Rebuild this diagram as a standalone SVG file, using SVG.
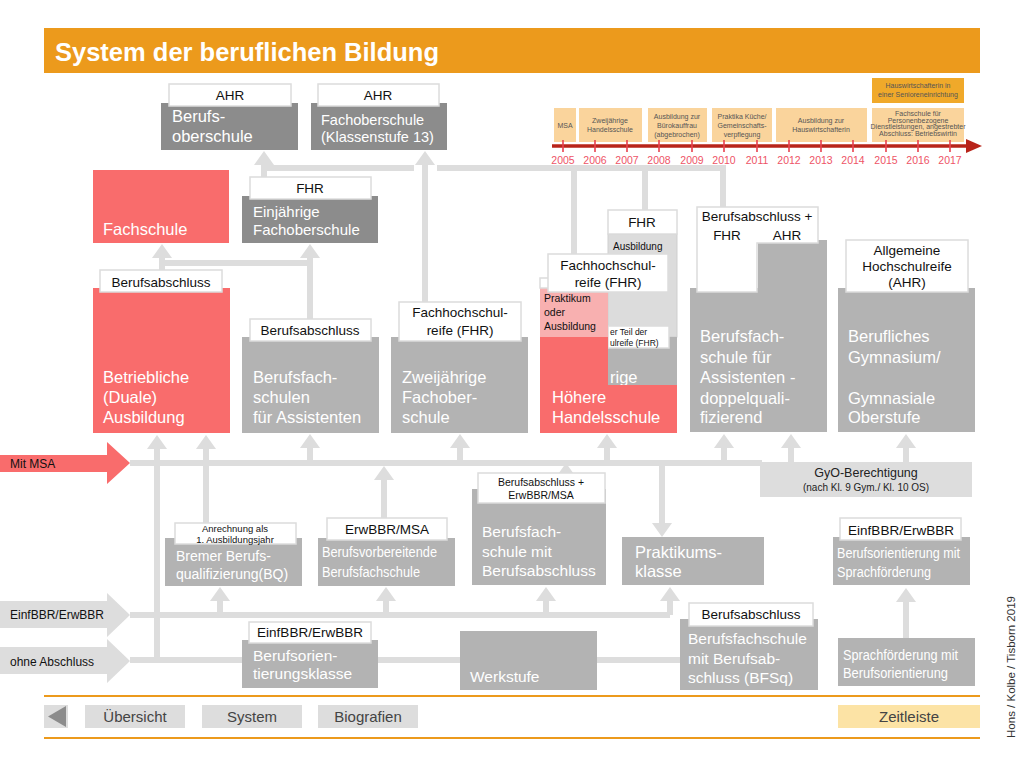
<svg xmlns="http://www.w3.org/2000/svg" width="1024" height="768" viewBox="0 0 1024 768">
<defs>
<style>
text{font-family:"Liberation Sans",Arial,sans-serif}
.dk{fill:#8C8C8C}
.md{fill:#B3B3B3}
.rd{fill:#F96C6C}
.pk{fill:#F8B0B0}
.lg{fill:#DDDDDD}
.lb{fill:#fff;stroke:#DCDCDC;stroke-width:1.5}
.w{fill:#fff}
.k{fill:#111}
.c{stroke:#DDDDDD;stroke-width:6;fill:none}
.ca{stroke:#DDDDDD;stroke-width:6;fill:none;marker-end:url(#ah)}
.t16{font-size:16.5px}
.t15{font-size:15px}
.t14{font-size:14px}
.l{font-size:13.5px;text-anchor:middle}
.s{font-size:10px}
.tl{font-size:7px;fill:#555;text-anchor:middle}
.tb{fill:#FAD49C}
.yr{font-size:10.5px;fill:#EE5466;text-anchor:middle}
.tk{stroke:#E8424E;stroke-width:1.6}
.nav{font-size:15px;fill:#444;text-anchor:middle}
</style>
<marker id="ah" viewBox="0 0 14 20" refX="0" refY="10" markerWidth="14" markerHeight="20" markerUnits="userSpaceOnUse" orient="auto"><path d="M0,0 L14,10 L0,20 Z" fill="#DDDDDD"/></marker>
</defs>
<rect x="0" y="0" width="1024" height="768" fill="#fff"/>

<g id="title">
<rect x="44" y="28" width="936" height="45" fill="#EC9A1C"/>
<text x="55" y="61" font-size="25.5" font-weight="bold" fill="#fff">System der beruflichen Bildung</text>
</g>

<g id="timeline">
<rect x="872" y="78" width="92" height="25" fill="#F0A92A"/>
<text class="tl" x="918" y="88">Hauswirtschafterin in</text>
<text class="tl" x="918" y="97">einer Senioreneinrichtung</text>
<rect class="tb" x="554" y="108" width="22" height="34"/>
<text class="tl" x="565" y="128">MSA</text>
<rect class="tb" x="579" y="108" width="63" height="34"/>
<text class="tl" x="610" y="123">Zweijährige</text>
<text class="tl" x="610" y="132">Handelsschule</text>
<rect class="tb" x="648" y="108" width="59" height="34"/>
<text class="tl" x="677" y="119">Ausbildung zur</text>
<text class="tl" x="677" y="128">Bürokauffrau</text>
<text class="tl" x="677" y="137">(abgebrochen)</text>
<rect class="tb" x="712" y="108" width="60" height="34"/>
<text class="tl" x="742" y="119">Praktika Küche/</text>
<text class="tl" x="742" y="128">Gemeinschafts-</text>
<text class="tl" x="742" y="137">verpflegung</text>
<rect class="tb" x="776" y="108" width="91" height="34"/>
<text class="tl" x="821" y="123">Ausbildung zur</text>
<text class="tl" x="821" y="132">Hauswirtschafterin</text>
<rect class="tb" x="872" y="108" width="92" height="34"/>
<text class="tl" x="918" y="116" font-size="5.5">Fachschule für</text>
<text class="tl" x="918" y="122.5" font-size="5.5">Personenbezogene</text>
<text class="tl" x="918" y="129" font-size="5.5">Dienstleistungen, angestrebter</text>
<text class="tl" x="918" y="135.5" font-size="5.5">Abschluss: Betriebswirtin</text>
<line x1="552" y1="146" x2="968" y2="146" stroke="#B8241A" stroke-width="3.5"/>
<polygon points="966,139 982,146 966,153" fill="#B8241A"/>
<g class="tk">
<line x1="563" y1="140" x2="563" y2="152"/><line x1="595" y1="140" x2="595" y2="152"/><line x1="627" y1="140" x2="627" y2="152"/><line x1="659" y1="140" x2="659" y2="152"/><line x1="692" y1="140" x2="692" y2="152"/><line x1="724" y1="140" x2="724" y2="152"/><line x1="757" y1="140" x2="757" y2="152"/><line x1="789" y1="140" x2="789" y2="152"/><line x1="821" y1="140" x2="821" y2="152"/><line x1="853" y1="140" x2="853" y2="152"/><line x1="886" y1="140" x2="886" y2="152"/><line x1="918" y1="140" x2="918" y2="152"/><line x1="950" y1="140" x2="950" y2="152"/>
</g>
<text class="yr" x="563" y="164">2005</text><text class="yr" x="595" y="164">2006</text><text class="yr" x="627" y="164">2007</text><text class="yr" x="659" y="164">2008</text><text class="yr" x="692" y="164">2009</text><text class="yr" x="724" y="164">2010</text><text class="yr" x="757" y="164">2011</text><text class="yr" x="789" y="164">2012</text><text class="yr" x="821" y="164">2013</text><text class="yr" x="853" y="164">2014</text><text class="yr" x="886" y="164">2015</text><text class="yr" x="918" y="164">2016</text><text class="yr" x="950" y="164">2017</text>
</g>

<g id="connectors">
<path class="c" d="M261,168 H414"/>
<path class="c" d="M437,168 H723 V208"/>
<path class="c" d="M574,168 V255"/>
<path class="c" d="M645,168 V211"/>
<path class="ca" d="M264,182 V165"/>
<path class="ca" d="M425,304 V165"/>
<path class="ca" d="M310,320 V258"/>
<path class="c" d="M159,263 H310"/>
<path class="ca" d="M162,272 V258"/>
<path class="c" d="M130,463 H762"/>
<path class="ca" d="M310,463 V448"/>
<path class="ca" d="M460,463 V448"/>
<path class="ca" d="M607,463 V448"/>
<path class="ca" d="M724,463 V448"/>
<path class="ca" d="M791,463 V448"/>
<path class="ca" d="M906,463 V448"/>
<path class="ca" d="M157,660 V449"/>
<path class="ca" d="M206,524 V449"/>
<path class="ca" d="M384,519 V480"/>
<path class="ca" d="M566,490 V477"/>
<path class="ca" d="M662,463 V523"/>
<path class="ca" d="M906,638 V602"/>
<path class="c" d="M130,615 H670"/>
<path class="ca" d="M670,615 V601"/>
<path class="ca" d="M220,615 V601"/>
<path class="ca" d="M386,615 V601"/>
<path class="ca" d="M546,615 V601"/>
<path class="c" d="M130,660 H682"/>
</g>

<g id="berufsoberschule">
<rect class="dk" x="161" y="103" width="137" height="47"/>
<rect class="lb" x="169" y="84" width="122" height="22"/>
<text class="l k" x="230" y="100">AHR</text>
<text class="w t16" x="172" y="122">Berufs-</text>
<text class="w t16" x="172" y="142">oberschule</text>
</g>

<g id="fachoberschule13">
<rect class="dk" x="311" y="103" width="136" height="47"/>
<rect class="lb" x="318" y="84" width="121" height="22"/>
<text class="l k" x="378" y="100">AHR</text>
<text class="w" font-size="14.5" x="321" y="125">Fachoberschule</text>
<text class="w" font-size="14.5" x="321" y="142">(Klassenstufe 13)</text>
</g>

<g id="fachschule">
<rect class="rd" x="93" y="170" width="136" height="73"/>
<text class="w t16" x="103" y="235">Fachschule</text>
</g>

<g id="einjaehrige-fos">
<rect class="dk" x="242" y="196" width="136" height="47"/>
<rect class="lb" x="250" y="177" width="121" height="22"/>
<text class="l k" x="310" y="193">FHR</text>
<text class="w t15" x="253" y="217">Einjährige</text>
<text class="w t15" x="253" y="235">Fachoberschule</text>
</g>

<g id="betriebliche-ausbildung">
<rect class="rd" x="93" y="288" width="137" height="145"/>
<rect class="lb" x="100" y="270" width="122" height="22"/>
<text class="l k" x="161" y="287">Berufsabschluss</text>
<text class="w t16" x="103" y="383">Betriebliche</text>
<text class="w t16" x="103" y="403">(Duale)</text>
<text class="w t16" x="103" y="423">Ausbildung</text>
</g>

<g id="bfs-assistenten">
<rect class="md" x="242" y="337" width="137" height="96"/>
<rect class="lb" x="250" y="319" width="121" height="22"/>
<text class="l k" x="310" y="335">Berufsabschluss</text>
<text class="w t16" x="253" y="383">Berufsfach-</text>
<text class="w t16" x="253" y="403">schulen</text>
<text class="w t16" x="253" y="423">für Assistenten</text>
</g>

<g id="zweijaehrige-fos">
<rect class="md" x="391" y="337" width="137" height="96"/>
<rect class="lb" x="399" y="302" width="122" height="39"/>
<text class="l k" x="460" y="317">Fachhochschul-</text>
<text class="l k" x="460" y="335">reife (FHR)</text>
<text class="w t16" x="402" y="383">Zweijährige</text>
<text class="w t16" x="402" y="403">Fachober-</text>
<text class="w t16" x="402" y="423">schule</text>
</g>

<g id="hoehere-handelsschule">
<rect x="608" y="234" width="69" height="103" fill="#DCDCDC" stroke="#CFCFCF" stroke-width="1"/>
<rect class="lb" x="608" y="210" width="69" height="24"/>
<text class="l k" x="642" y="227">FHR</text>
<text class="k s" x="613" y="250">Ausbildung</text>
<rect class="md" x="608" y="337" width="69" height="96"/>
<rect class="lb" x="608" y="326" width="61" height="22"/>
<text class="k" font-size="8.5" x="610" y="335">er Teil der</text>
<text class="k" font-size="8.5" x="610" y="346">ulreife (FHR)</text>
<text class="w t16" x="610" y="383">rige</text>
<path class="rd" d="M540,337 H608 V385 H677 V433 H540 Z"/>
<rect class="pk" x="540" y="288" width="68" height="49"/>
<text class="k" font-size="10.5" x="544" y="302">Praktikum</text>
<text class="k" font-size="10.5" x="544" y="316">oder</text>
<text class="k" font-size="10.5" x="544" y="330">Ausbildung</text>
<rect class="lb" x="540" y="278" width="16" height="10"/>
<rect class="lb" x="548" y="254" width="120" height="38"/>
<text class="l k" x="608" y="270">Fachhochschul-</text>
<text class="l k" x="608" y="287">reife (FHR)</text>
<text class="w t16" x="552" y="403">Höhere</text>
<text class="w t16" x="552" y="423">Handelsschule</text>
</g>

<g id="bfs-assistenten-doppelqualifizierend">
<path class="md" d="M690,288 H758 V240 H827 V432 H690 Z"/>
<path class="lb" d="M697,207 H818 V243 H757 V292 H697 Z"/>
<text class="l k" x="757" y="221">Berufsabschluss +</text>
<text class="l k" x="727" y="240">FHR</text>
<text class="l k" x="787" y="240">AHR</text>
<text class="w t16" x="700" y="342">Berufsfach-</text>
<text class="w t16" x="700" y="363">schule für</text>
<text class="w t16" x="700" y="383">Assistenten -</text>
<text class="w t16" x="700" y="404">doppelquali-</text>
<text class="w t16" x="700" y="423">fizierend</text>
</g>

<g id="berufliches-gymnasium">
<rect class="md" x="838" y="288" width="137" height="144"/>
<rect class="lb" x="846" y="240" width="122" height="52"/>
<text class="l k" x="907" y="255">Allgemeine</text>
<text class="l k" x="907" y="271">Hochschulreife</text>
<text class="l k" x="907" y="287">(AHR)</text>
<text class="w t16" x="848" y="342">Berufliches</text>
<text class="w t16" x="848" y="363">Gymnasium/</text>
<text class="w t16" x="848" y="404">Gymnasiale</text>
<text class="w t16" x="848" y="423">Oberstufe</text>
</g>

<g id="mit-msa">
<path d="M0,455 H107 V442 L130,463 L107,484 V472 H0 Z" fill="#F96C6C"/>
<text class="k" font-size="12" x="10" y="468">Mit MSA</text>
</g>

<g id="gyo-berechtigung">
<rect class="lg" x="760" y="462" width="212" height="35"/>
<text x="866" y="477" font-size="12.5" fill="#222" text-anchor="middle">GyO-Berechtigung</text>
<text x="866" y="491" font-size="10" fill="#222" text-anchor="middle">(nach Kl. 9 Gym./  Kl. 10 OS)</text>
</g>

<g id="bremer-bq">
<rect class="md" x="165" y="538" width="137" height="48"/>
<rect class="lb" x="175" y="523" width="121" height="21"/>
<text class="k" font-size="9.5" x="235" y="532" text-anchor="middle">Anrechnung als</text>
<text class="k" font-size="9.5" x="235" y="543" text-anchor="middle">1. Ausbildungsjahr</text>
<text class="w" font-size="14" x="176" y="561">Bremer Berufs-</text>
<text class="w" font-size="14" x="176" y="579">qualifizierung(BQ)</text>
</g>

<g id="berufsvorbereitende-bfs">
<rect class="md" x="318" y="538" width="137" height="48"/>
<rect class="lb" x="327" y="518" width="120" height="22"/>
<text class="l k" x="387" y="534">ErwBBR/MSA</text>
<text class="w t14" x="322" y="557" textLength="115" lengthAdjust="spacingAndGlyphs">Berufsvorbereitende</text>
<text class="w t14" x="322" y="577" textLength="98" lengthAdjust="spacingAndGlyphs">Berufsfachschule</text>
</g>

<g id="bfs-mit-berufsabschluss">
<rect class="md" x="472" y="489" width="134" height="96"/>
<rect class="lb" x="478" y="473" width="127" height="30"/>
<text class="k" font-size="10.5" x="541" y="486" text-anchor="middle">Berufsabschluss +</text>
<text class="k" font-size="10.5" x="541" y="499" text-anchor="middle">ErwBBR/MSA</text>
<text class="w" font-size="15.5" x="482" y="537">Berufsfach-</text>
<text class="w" font-size="15.5" x="482" y="557">schule mit</text>
<text class="w" font-size="15.5" x="482" y="576">Berufsabschluss</text>
</g>

<g id="praktikumsklasse">
<rect class="md" x="622" y="537" width="142" height="48"/>
<text class="w t16" x="635" y="558">Praktikums-</text>
<text class="w t16" x="635" y="577">klasse</text>
</g>

<g id="berufsorientierung-sprachfoerderung">
<rect class="md" x="833" y="537" width="137" height="48"/>
<rect class="lb" x="840" y="518" width="121" height="22"/>
<text class="l k" x="901" y="535">EinfBBR/ErwBBR</text>
<text class="w t14" x="837" y="558" textLength="123" lengthAdjust="spacingAndGlyphs">Berufsorientierung mit</text>
<text class="w t14" x="837" y="577" textLength="94" lengthAdjust="spacingAndGlyphs">Sprachförderung</text>
</g>

<g id="einfbbr-erwbbr">
<path d="M0,601 H107 V593 L130,615 L107,637 V628 H0 Z" fill="#DDDDDD"/>
<text class="k" font-size="12" x="10" y="619">EinfBBR/ErwBBR</text>
</g>

<g id="ohne-abschluss">
<path d="M0,647 H107 V639 L130,661 L107,683 V674 H0 Z" fill="#DDDDDD"/>
<text class="k" font-size="12" x="10" y="666">ohne Abschluss</text>
</g>

<g id="berufsorientierungsklasse">
<rect class="md" x="242" y="640" width="136" height="48"/>
<rect class="lb" x="249" y="622" width="122" height="21"/>
<text class="l k" x="310" y="637">EinfBBR/ErwBBR</text>
<text class="w" font-size="15.5" x="253" y="661">Berufsorien-</text>
<text class="w" font-size="15.5" x="253" y="679">tierungsklasse</text>
</g>

<g id="werkstufe">
<rect class="md" x="460" y="631" width="137" height="59"/>
<text class="w" font-size="15.5" x="470" y="682">Werkstufe</text>
</g>

<g id="bfsq">
<rect class="md" x="680" y="619" width="138" height="71"/>
<rect class="lb" x="689" y="603" width="124" height="23"/>
<text class="l k" x="751" y="619">Berufsabschluss</text>
<text class="w" font-size="15.5" x="688" y="644">Berufsfachschule</text>
<text class="w" font-size="15.5" x="688" y="664">mit Berufsab-</text>
<text class="w" font-size="15.5" x="688" y="683">schluss (BFSq)</text>
</g>

<g id="sprachfoerderung-berufsorientierung">
<rect class="md" x="838" y="638" width="137" height="48"/>
<text class="w t14" x="843" y="660" textLength="115" lengthAdjust="spacingAndGlyphs">Sprachförderung mit</text>
<text class="w t14" x="843" y="678" textLength="105" lengthAdjust="spacingAndGlyphs">Berufsorientierung</text>
</g>

<g id="navigation">
<line x1="44" y1="696" x2="980" y2="696" stroke="#EC9A1C" stroke-width="2"/>
<line x1="44" y1="738" x2="980" y2="738" stroke="#EC9A1C" stroke-width="2"/>
<rect class="lg" x="44" y="705" width="24" height="23"/>
<polygon points="48,716.5 66,706 66,727" fill="#8C8C8C"/>
<rect class="lg" x="85" y="705" width="100" height="23"/>
<text class="nav" x="135" y="722">Übersicht</text>
<rect class="lg" x="202" y="705" width="100" height="23"/>
<text class="nav" x="252" y="722">System</text>
<rect class="lg" x="318" y="705" width="100" height="23"/>
<text class="nav" x="368" y="722">Biografien</text>
<rect x="838" y="705" width="142" height="23" fill="#FCE3A5"/>
<text class="nav" x="909" y="722">Zeitleiste</text>
</g>

<text x="1015" y="667" font-size="11.5" fill="#333" text-anchor="middle" transform="rotate(-90 1015 667)">Hons / Kolbe / Tisborn 2019</text>
</svg>
